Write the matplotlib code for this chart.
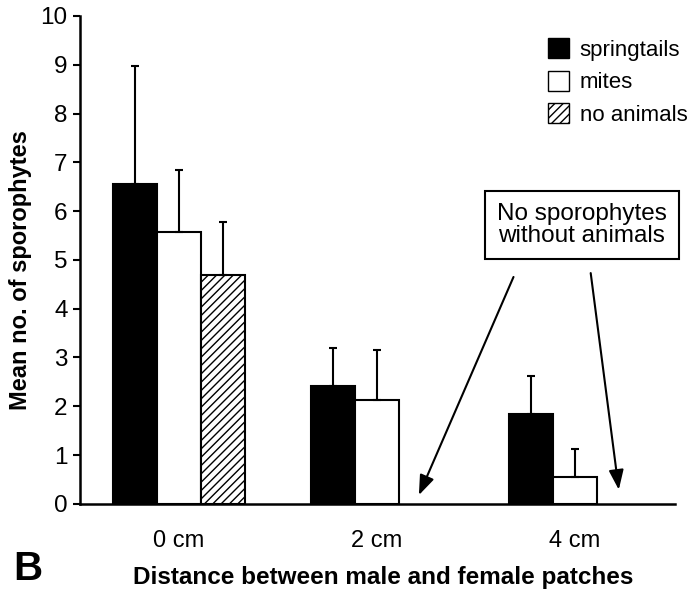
"""Mean number of sporophytes by patch distance"""

import numpy as np
import matplotlib
matplotlib.use('Agg')
import matplotlib.pyplot as plt
from matplotlib.patches import Patch

plt.rcParams['font.family'] = ['Liberation Sans', 'DejaVu Sans']
plt.rcParams['hatch.linewidth'] = 1.0

distances = ['0 cm', '2 cm', '4 cm']
springtails = [6.55, 2.42, 1.84]
springtails_err = [2.42, 0.78, 0.78]
mites = [5.57, 2.13, 0.55]
mites_err = [1.27, 1.03, 0.58]
no_animals = [4.70, 0.0, 0.0]
no_animals_err = [1.08, 0.0, 0.0]
yticks = list(range(0, 11))


def main():
    """Main function"""
    fig = plt.figure(figsize=(6.9, 5.9), dpi=100)
    ax = fig.add_axes([0.116, 0.146, 0.862, 0.827])

    x = np.arange(len(distances))
    w = 0.222
    ekw = dict(elinewidth=1.5, capthick=1.5, ecolor='black')

    ax.bar(x - w, springtails, w, color='black', edgecolor='black',
           linewidth=1.5,
           yerr=[np.zeros(3), springtails_err], capsize=3, error_kw=ekw)
    ax.bar(x, mites, w, color='white', edgecolor='black', linewidth=1.5,
           yerr=[np.zeros(3), mites_err], capsize=3, error_kw=ekw)
    # only the 0 cm group has a no-animal bar
    ax.bar(x[:1] + w, no_animals[:1], w, color='white', edgecolor='black',
           linewidth=1.5, hatch='////',
           yerr=[[0], no_animals_err[:1]], capsize=3, error_kw=ekw)

    ax.set_xlim(-0.5, 2.505)
    ax.set_ylim(0, 10)
    ax.set_yticks(yticks)
    ax.set_xticks(x)
    ax.set_xticklabels(distances)
    ax.tick_params(axis='x', length=0, pad=19, labelsize=17)
    ax.tick_params(axis='y', length=5, width=1.5, direction='out',
                   labelsize=17.5, pad=4)
    ax.spines['top'].set_visible(False)
    ax.spines['right'].set_visible(False)
    ax.spines['left'].set_linewidth(1.8)
    ax.spines['bottom'].set_linewidth(1.8)
    ax.set_ylabel('Mean no. of sporophytes', fontsize=17, fontweight='bold')
    ax.yaxis.set_label_coords(-0.08, 0.48)
    fig.text(0.555, 0.022, 'Distance between male and female patches',
             fontsize=17.5, fontweight='bold', ha='center', va='center')

    handles = [Patch(facecolor='black', edgecolor='black', label='springtails'),
               Patch(facecolor='white', edgecolor='black', label='mites'),
               Patch(facecolor='white', edgecolor='black', hatch='////',
                     label='no animals')]
    ax.legend(handles=handles, loc='upper right', frameon=False,
              fontsize=16, handlelength=0.95, handleheight=1.0,
              handletextpad=0.5, labelspacing=0.45,
              bbox_to_anchor=(1.055, 0.995))

    ax.text(2.035, 5.72, 'No sporophytes\nwithout animals', fontsize=17.5,
            ha='center', va='center', linespacing=1.0,
            bbox=dict(boxstyle='square,pad=0.5', facecolor='white',
                      edgecolor='black', linewidth=1.5))
    arrow = dict(arrowstyle='-|>,head_length=1.2,head_width=0.45',
                 color='black', linewidth=1.5, shrinkA=0, shrinkB=0)
    ax.annotate('', xy=(1 + w - 0.01, 0.18), xytext=(1.69, 4.65),
                arrowprops=arrow)
    ax.annotate('', xy=(2 + w, 0.29), xytext=(2.08, 4.73),
                arrowprops=arrow)

    fig.text(0.04, 0.035, 'B', fontsize=29, fontweight='bold',
             ha='center', va='center')

    plt.savefig('out.png', dpi=100)


if __name__ == "__main__":
    main()
